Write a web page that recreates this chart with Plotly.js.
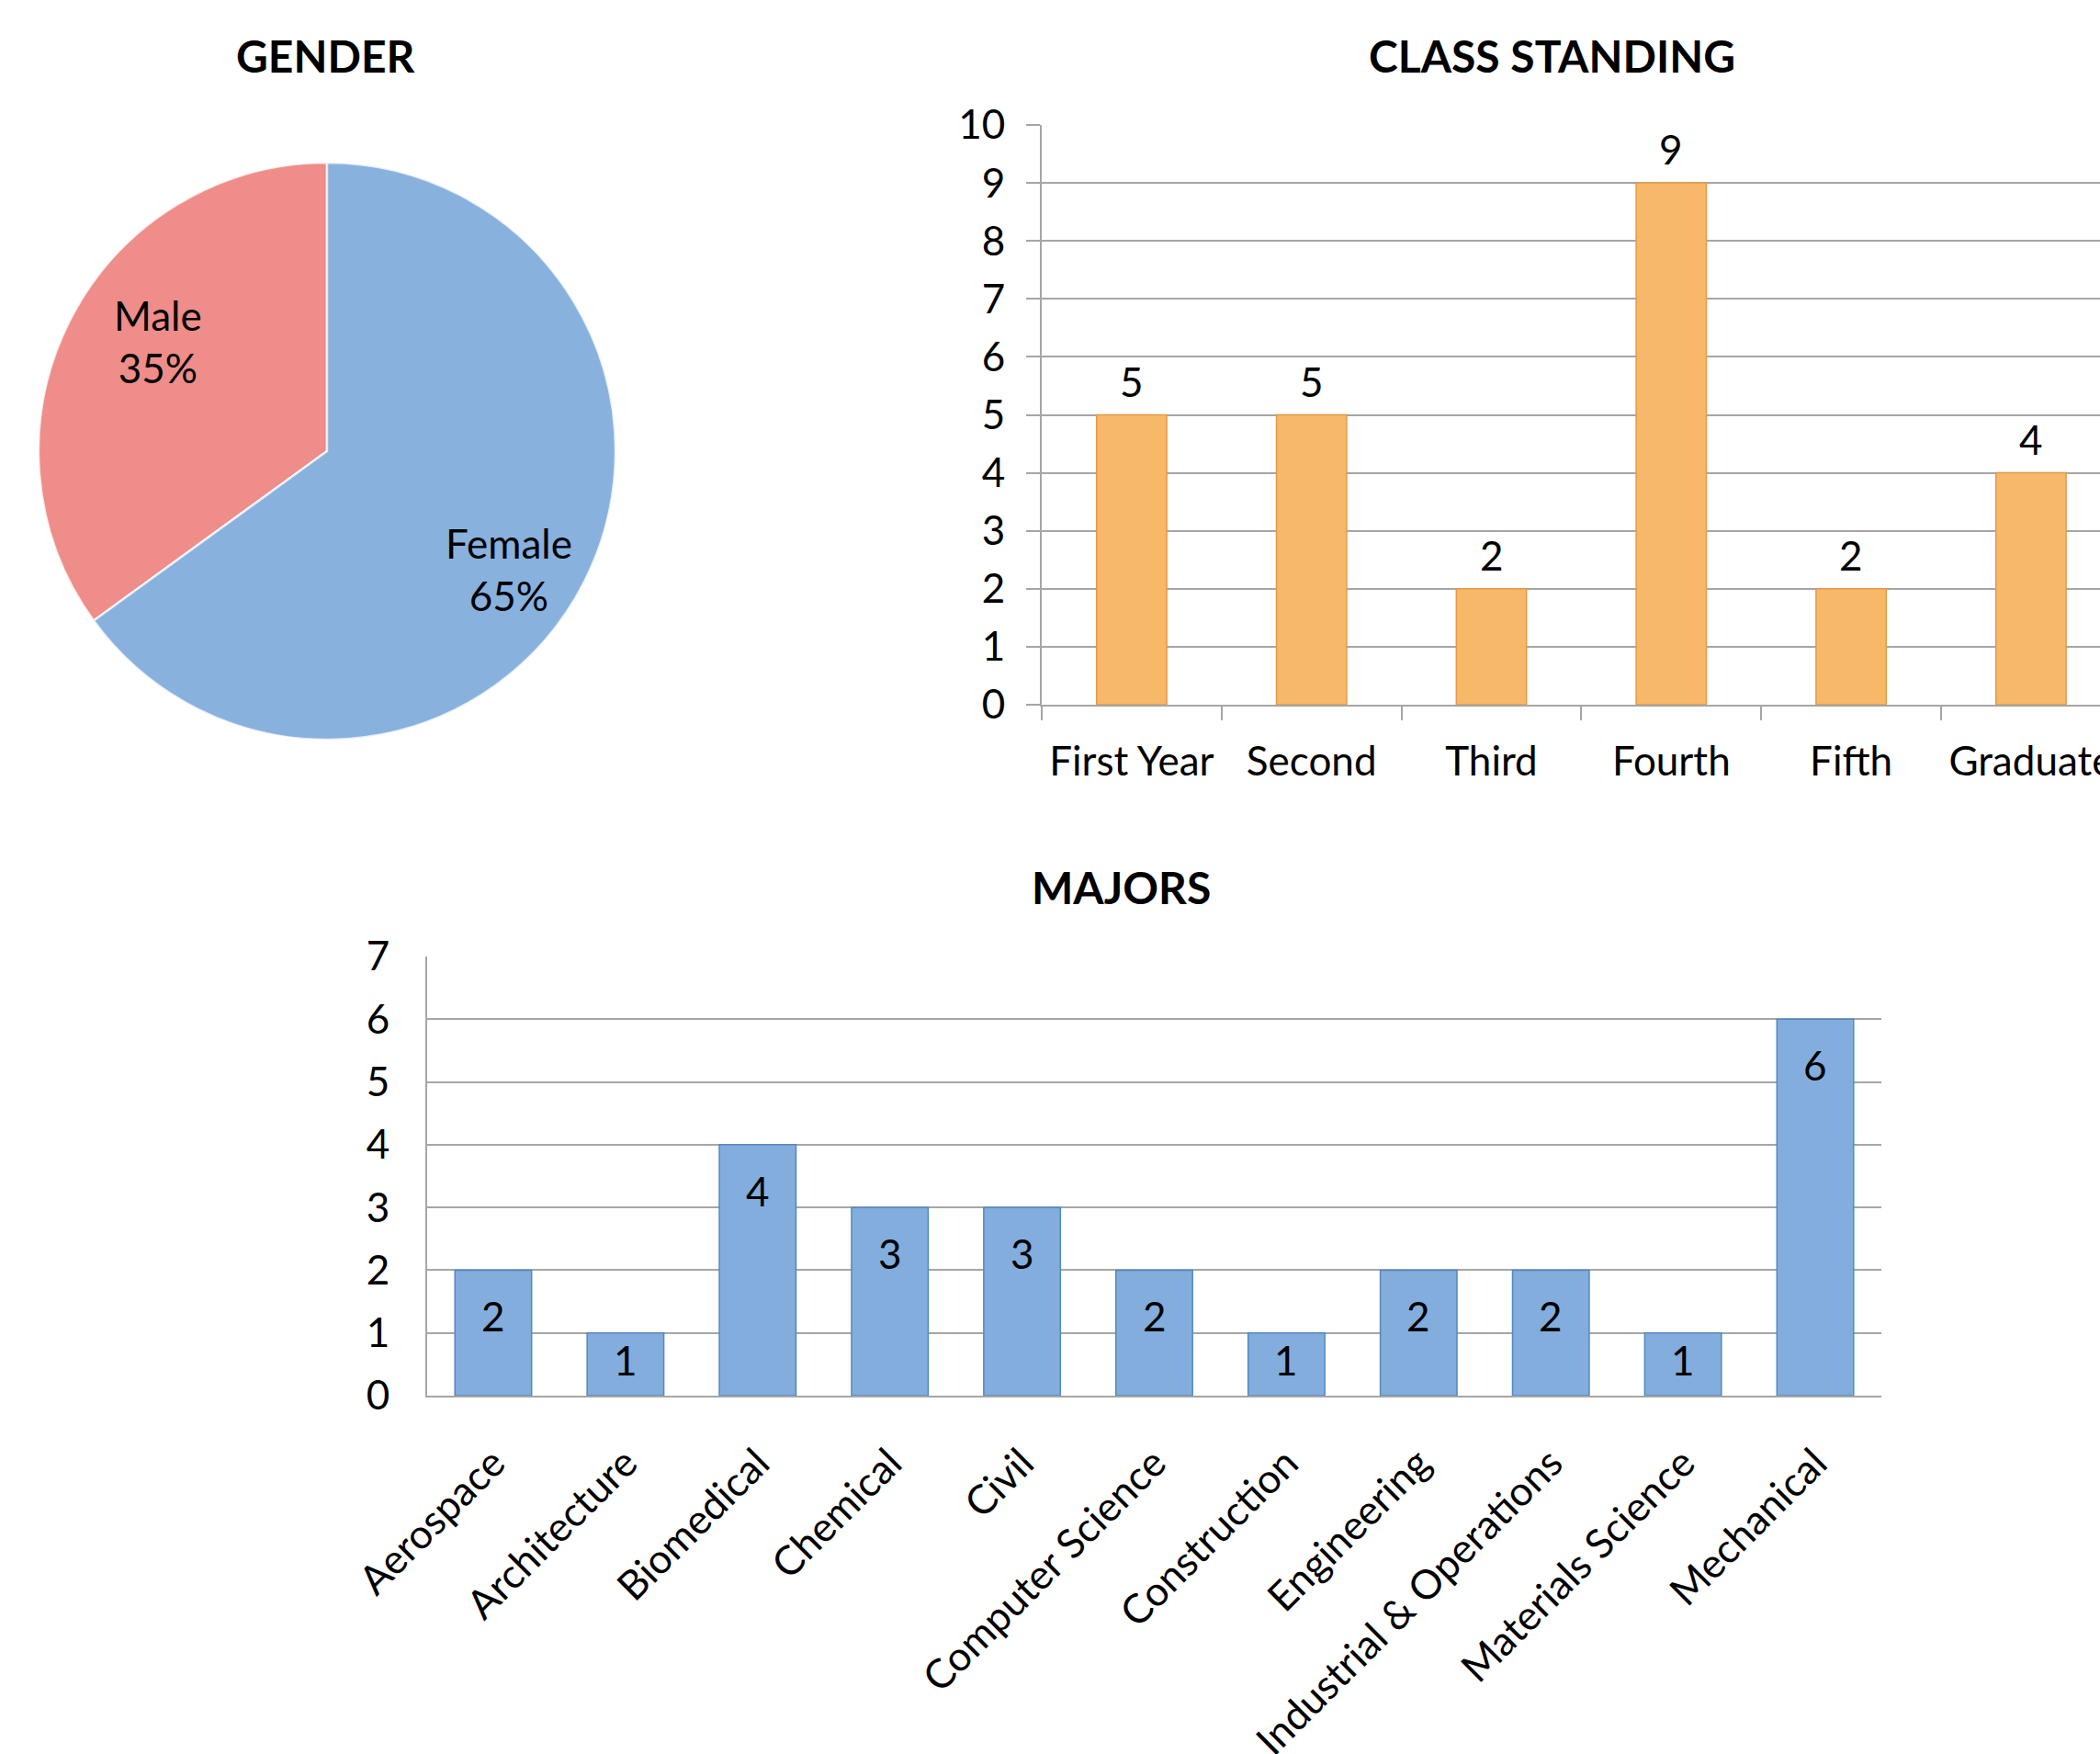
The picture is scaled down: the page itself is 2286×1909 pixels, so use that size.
<!DOCTYPE html>
<html>
<head>
<meta charset="utf-8">
<script src="https://cdn.plot.ly/plotly-3.0.1.min.js"></script>
<style>
  html, body { margin: 0; padding: 0; background: #ffffff; }
  #chart { width: 2286px; height: 1909px; }
</style>
</head>
<body>
<div id="chart"></div>
<script>
// ---- Data ----
const genderLabels = ["Male", "Female"];
const genderValues = [35, 65];

const classCategories = ["First Year", "Second", "Third", "Fourth", "Fifth", "Graduate"];
const classValues = [5, 5, 2, 9, 2, 4];

const majorCategories = ["Aerospace", "Architecture", "Biomedical", "Chemical", "Civil",
  "Computer Science", "Construction", "Engineering", "Industrial & Operations",
  "Materials Science", "Mechanical"];
const majorValues = [2, 1, 4, 3, 3, 2, 1, 2, 2, 1, 6];

const chartTitles = ["GENDER", "CLASS STANDING", "MAJORS"];

// ---- Styling ----
const FONT = "Lato, 'Open Sans', sans-serif";
const TICK_SIZE = 44;
const GRID = "#a6a6a6";

const W = 2286, H = 1909;

// pie geometry (pixels)
const PIE_CX = 356, PIE_CY = 491, PIE_R = 314;
const genderTotal = genderValues.reduce((a, b) => a + b, 0);
// first slice (Male) ends at 12 o'clock, lying on the left side
const pieRotation = -360 * genderValues[0] / genderTotal;

const traces = [
  {
    type: "pie",
    labels: genderLabels,
    values: genderValues,
    sort: false,
    direction: "clockwise",
    rotation: pieRotation,
    domain: { x: [(PIE_CX - PIE_R) / W, (PIE_CX + PIE_R) / W], y: [1 - (PIE_CY + PIE_R) / H, 1 - (PIE_CY - PIE_R) / H] },
    marker: { colors: ["#ee8d89", "#88b1de"], line: { color: "rgba(255,255,255,0.75)", width: 2.5 } },
    textinfo: "none",
    hoverinfo: "label+percent",
    showlegend: false
  },
  {
    type: "bar",
    x: classCategories,
    y: classValues,
    xaxis: "x",
    yaxis: "y",
    width: classCategories.map(() => 0.39),
    marker: { color: "#f7b869", line: { color: "#e39a48", width: 1.5 } },
    showlegend: false
  },
  {
    type: "bar",
    x: majorCategories,
    y: majorValues,
    xaxis: "x2",
    yaxis: "y2",
    width: majorCategories.map(() => 0.58),
    marker: { color: "#82addc", line: { color: "#5588c0", width: 1.5 } },
    showlegend: false
  }
];

const annotations = [];
// Titles
const titlePos = [[354, 60], [1689, 60], [1220, 965]];
chartTitles.forEach((t, i) => {
  annotations.push({
    text: t, xref: "paper", yref: "paper",
    x: titlePos[i][0] / W, y: 1 - titlePos[i][1] / H,
    xanchor: "center", yanchor: "middle", showarrow: false,
    font: { family: FONT, size: 48, color: "#000000", weight: "bold" }
  });
});
// Pie slice labels (label + percent), placed along each slice's mid-angle
(function () {
  let start = pieRotation; // degrees clockwise from 12 o'clock
  const radFrac = [0.70, 0.75];
  const angleNudge = 6;
  genderValues.forEach((v, i) => {
    const sweep = 360 * v / genderTotal;
    const mid = (start + sweep / 2 + angleNudge) * Math.PI / 180;
    start += sweep;
    const rr = PIE_R * radFrac[i];
    const px = PIE_CX + rr * Math.sin(mid);
    const py = PIE_CY - rr * Math.cos(mid);
    const pct = Math.round(100 * v / genderTotal) + "%";
    annotations.push({
      text: genderLabels[i] + "<br>" + pct, xref: "paper", yref: "paper",
      x: px / W, y: 1 - py / H, xanchor: "center", yanchor: "middle",
      showarrow: false, align: "center",
      font: { family: FONT, size: TICK_SIZE, color: "#000000" }
    });
  });
})();
// Class standing value labels (above bars)
classCategories.forEach((c, i) => {
  annotations.push({
    text: String(classValues[i]), xref: "x", yref: "y",
    x: c, y: classValues[i], yanchor: "middle", xanchor: "center",
    yshift: 37, showarrow: false,
    font: { family: FONT, size: TICK_SIZE, color: "#000000" }
  });
});
// Majors value labels (inside bars near top)
const majorsUnitPx = (1519 - 1041) / 7;
majorCategories.forEach((c, i) => {
  const shift = Math.min(50, majorValues[i] * majorsUnitPx * 0.43);
  annotations.push({
    text: String(majorValues[i]), xref: "x2", yref: "y2",
    x: c, y: majorValues[i], yanchor: "middle", xanchor: "center",
    yshift: -shift, showarrow: false,
    font: { family: FONT, size: TICK_SIZE, color: "#000000" }
  });
});

const classCatW = 195.8;
const layout = {
  width: W,
  height: H,
  margin: { l: 0, r: 0, t: 0, b: 0, pad: 0 },
  paper_bgcolor: "#ffffff",
  plot_bgcolor: "rgba(0,0,0,0)",
  font: { family: FONT, size: TICK_SIZE, color: "#000000" },
  showlegend: false,
  xaxis: {
    domain: [1134 / W, 1],
    range: [-0.5, -0.5 + (W - 1134) / classCatW],
    anchor: "y",
    type: "category",
    showgrid: false,
    showline: true, linecolor: GRID, linewidth: 2,
    ticks: "outside", tickson: "boundaries", ticklen: 15, tickwidth: 2, tickcolor: GRID,
    ticklabeloverflow: "allow",
    ticklabelstandoff: 22,
    tickfont: { family: FONT, size: TICK_SIZE, color: "#000000" },
    fixedrange: true
  },
  yaxis: {
    domain: [1 - 767 / H, 1 - 136 / H],
    range: [0, 10],
    anchor: "x",
    dtick: 1,
    showgrid: true, gridcolor: GRID, gridwidth: 2,
    zeroline: false,
    showline: true, linecolor: GRID, linewidth: 2,
    ticks: "outside", ticklen: 15, tickwidth: 2, tickcolor: GRID,
    ticklabelstandoff: 14,
    tickfont: { family: FONT, size: TICK_SIZE, color: "#000000" },
    fixedrange: true
  },
  xaxis2: {
    domain: [465 / W, 2048 / W],
    anchor: "y2",
    type: "category",
    showgrid: false,
    showline: true, linecolor: GRID, linewidth: 2,
    ticks: "",
    tickangle: -45,
    ticklabelstandoff: 28,
    tickfont: { family: FONT, size: TICK_SIZE, color: "#000000" },
    fixedrange: true
  },
  yaxis2: {
    domain: [1 - 1519 / H, 1 - 1041 / H],
    range: [0, 7],
    anchor: "x2",
    dtick: 1,
    showgrid: true, gridcolor: GRID, gridwidth: 2,
    zeroline: false,
    showline: true, linecolor: GRID, linewidth: 2,
    ticks: "",
    ticklabelstandoff: 30,
    tickfont: { family: FONT, size: TICK_SIZE, color: "#000000" },
    fixedrange: true
  },
  annotations: annotations
};

Plotly.newPlot("chart", traces, layout, { displayModeBar: false, staticPlot: true });
</script>
</body>
</html>
